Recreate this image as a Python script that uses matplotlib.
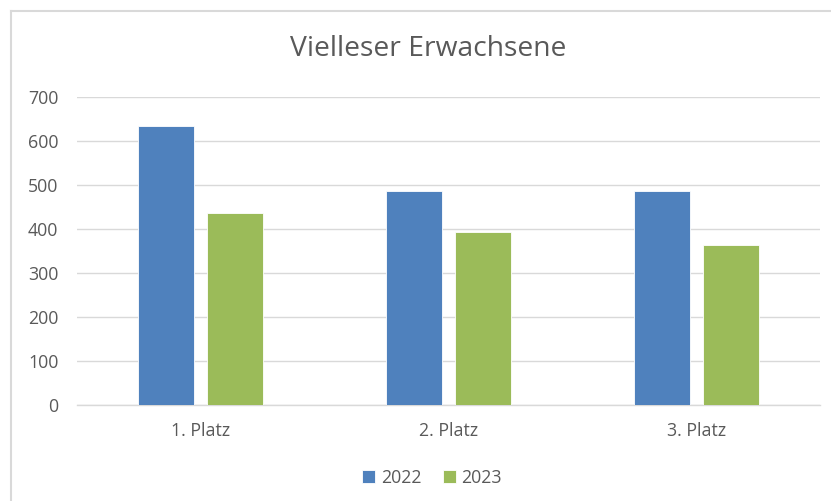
import matplotlib
matplotlib.use("Agg")
import matplotlib.pyplot as plt
import numpy as np
from matplotlib.lines import Line2D

# data
categories = ["1. Platz", "2. Platz", "3. Platz"]
werte_2022 = [634, 485, 485]
werte_2023 = [435, 392, 363]
jahre = ["2022", "2023"]

plt.rcParams['font.family'] = ['Open Sans', 'DejaVu Sans']
grey = "#595959"
gridgrey = "#D9D9D9"

fig = plt.figure(figsize=(8.31, 5.01), dpi=100)
ax = fig.add_axes([76.5 / 831, 1 - 405 / 501, 744 / 831, (405 - 96.7) / 501])

x = np.arange(len(categories))
w = 0.226
off = 0.141
ax.bar(x - off, werte_2022, w, color="#4F81BD", edgecolor="white", linewidth=0.6, label=jahre[0], zorder=3)
ax.bar(x + off, werte_2023, w, color="#9BBB59", edgecolor="white", linewidth=0.6, label=jahre[1], zorder=3)

ax.set_xlim(-0.5, 2.5)
ax.set_ylim(0, 700)
ax.set_yticks(range(0, 701, 100))
ax.set_xticks(x)
ax.set_xticklabels(categories)
ax.yaxis.grid(True, color=gridgrey, linewidth=1, zorder=0)
ax.set_axisbelow(True)
for s in ["top", "right", "left"]:
    ax.spines[s].set_visible(False)
ax.spines["bottom"].set_color(gridgrey)
ax.spines["bottom"].set_linewidth(1)
ax.tick_params(axis="both", length=0, colors=grey, labelsize=12.8)
ax.tick_params(axis="y", pad=13)
ax.tick_params(axis="x", pad=12)

fig.text(428 / 831, 1 - 49 / 501, "Vielleser Erwachsene", ha="center", va="center",
         fontsize=20.3, color=grey)

leg = fig.legend(loc="center", bbox_to_anchor=(432 / 831, 1 - 478 / 501), ncol=2, frameon=False,
                 fontsize=12.8, handlelength=0.75, handleheight=0.75, handletextpad=0.3,
                 columnspacing=1.2, labelcolor=grey)

# chart frame (only top and left edges visible in the crop)
fig.add_artist(Line2D([11 / 831, 11 / 831], [0, 1 - 11 / 501], color=gridgrey, linewidth=1.5))
fig.add_artist(Line2D([11 / 831, 1], [1 - 11 / 501, 1 - 11 / 501], color=gridgrey, linewidth=1.5))

fig.savefig("out.png", dpi=100)
